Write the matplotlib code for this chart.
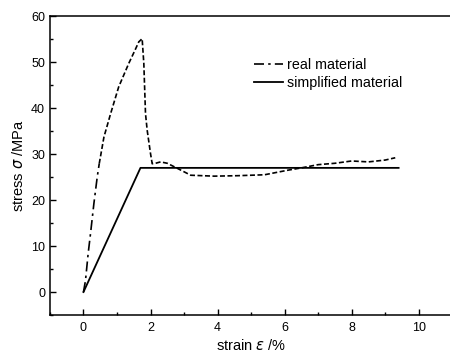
import matplotlib
matplotlib.use("Agg")
import matplotlib.pyplot as plt
from matplotlib.ticker import MultipleLocator

plt.rcParams['font.family'] = ['Liberation Sans', 'DejaVu Sans']

# real material curve
real_x = [0.0, 0.06, 0.14, 0.21, 0.31, 0.41, 0.47, 0.61, 0.81, 1.05, 1.35, 1.55, 1.65, 1.75,
          1.8, 1.85, 1.9, 2.0, 2.05, 2.15, 2.3, 2.5, 2.8, 3.2, 3.9, 4.6, 5.4,
          6.1, 6.5, 7.0, 7.5, 8.0, 8.5, 9.0, 9.3]
real_y = [0.0, 2.5, 8.4, 12.7, 19.2, 25.0, 27.9, 33.7, 38.8, 44.6, 49.7, 52.8, 54.4, 55.1,
          49.7, 38.8, 35.2, 30.1, 27.9, 28.0, 28.3, 28.0, 26.9, 25.4, 25.2, 25.3, 25.5,
          26.5, 27.0, 27.7, 28.0, 28.5, 28.3, 28.7, 29.2]
# simplified material
simp_x = [0.0, 1.7, 9.4]
simp_y = [0.0, 27.0, 27.0]

split = 7  # dash-dot near the start, dashed after

fig = plt.figure(figsize=(4.5, 3.58), dpi=100)
ax = fig.add_axes([0.111, 0.12, 0.894, 0.835])

ax.plot(real_x[:split], real_y[:split], color='black', lw=1.2,
        linestyle=(0, (6, 2.5, 1.5, 2.5)), label='real material')
ax.plot(real_x[split - 1:], real_y[split - 1:], color='black', lw=1.2,
        linestyle=(0, (3, 1.5)))
ax.plot(simp_x, simp_y, color='black', lw=1.3, label='simplified material')

ax.set_xlim(-1, 11)
ax.set_ylim(-5, 60)
ax.xaxis.set_major_locator(MultipleLocator(2))
ax.xaxis.set_minor_locator(MultipleLocator(1))
ax.yaxis.set_major_locator(MultipleLocator(10))
ax.yaxis.set_minor_locator(MultipleLocator(5))
ax.tick_params(which='both', direction='in', labelsize=9, width=1)
ax.tick_params(which='major', length=4)
ax.tick_params(which='minor', length=2)
ax.tick_params(axis='x', pad=5)
for s in ax.spines.values():
    s.set_linewidth(1.1)

ax.set_xlabel(r'strain $\varepsilon$ /%', fontsize=10.5, labelpad=3)
ax.set_ylabel(r'stress $\sigma$ /MPa', fontsize=10.5)

ax.legend(loc='upper left', bbox_to_anchor=(0.475, 0.902), frameon=False,
          fontsize=10.3, handlelength=2.0, handletextpad=0.3, labelspacing=0.25)

fig.savefig('out.png', dpi=100)
